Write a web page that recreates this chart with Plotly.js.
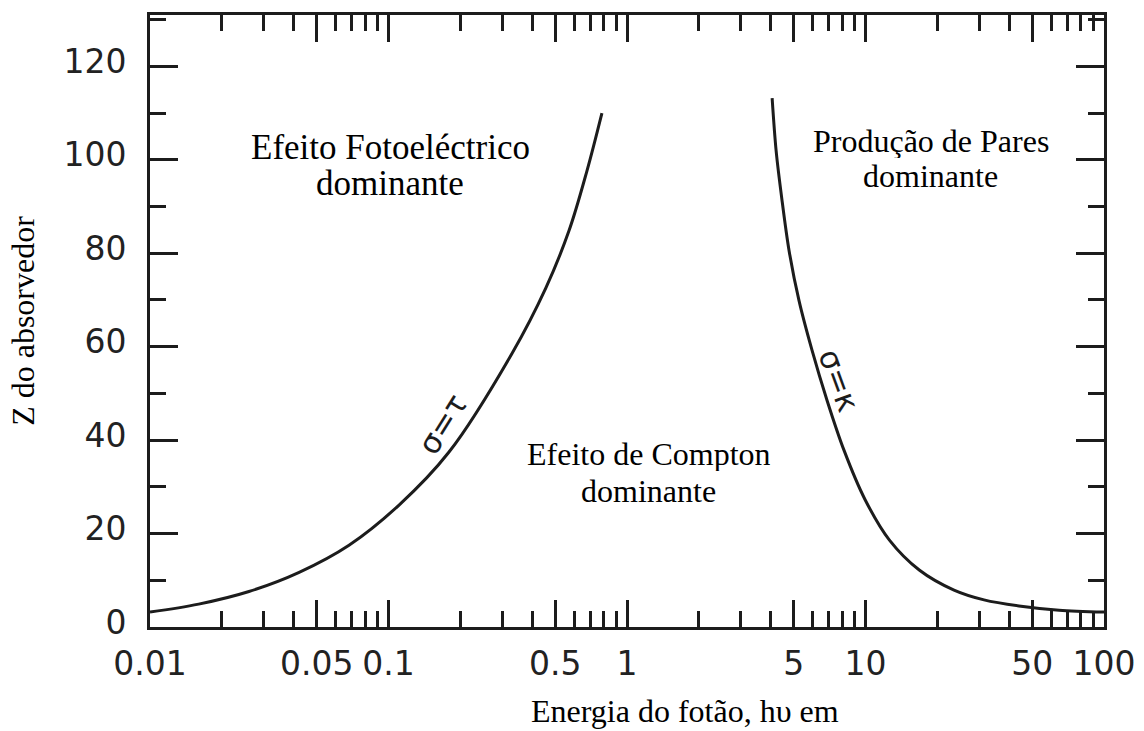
<!DOCTYPE html>
<html>
<head>
<meta charset="utf-8">
<script src="https://cdn.plot.ly/plotly-3.0.1.min.js"></script>
<style>html,body{margin:0;padding:0;background:#fff;}#chart{width:1144px;height:731px;}</style>
</head>
<body>
<div id="chart"></div>
<script>
// Photoelectric / Compton boundary (sigma = tau)
const photoEnergy = [0.01, 0.016, 0.026, 0.0422, 0.0683, 0.1107, 0.179, 0.329, 0.457, 0.571, 0.679, 0.785];
const photoZ      = [3.2,  4.9,   7.6,   11.7,   17.5,   26.1,   37.4,  58.5,  72.6,  84.8,  97.6,  110];
// Compton / pair production boundary (sigma = kappa)
const pairEnergy = [4.06, 4.22, 4.47, 4.78, 5.26, 5.97, 6.9, 8.13, 9.95, 12.6, 16.8, 23.5, 31.4, 44.0, 64.8, 100];
const pairZ      = [113.2, 101.9, 91.2, 80.6, 69.9, 59.2, 48.5, 37.8, 27.3, 18.6, 12.2, 7.9, 5.8, 4.5, 3.6, 3.2];

const xMajorTicks = [0.01, 0.05, 0.1, 0.5, 1, 5, 10, 50, 100];
const xMajorLabels = ['0.01', '0.05', '0.1', '0.5', '1', '5', '10', '50', '100'];
const xMinorTicks = [0.02,0.03,0.04,0.06,0.07,0.08,0.09,0.2,0.3,0.4,0.6,0.7,0.8,0.9,2,3,4,6,7,8,9,20,30,40,60,70,80,90];
const yMajorTicks = [0, 20, 40, 60, 80, 100, 120];
const yMajorLabels = ['0', '20', '40', '60', '80', '100', '120'];

const regionLabels = [
  {text: 'Efeito Fotoeléctrico', x: 0.1015, y: 102.6, size: 35},
  {text: 'dominante', x: 0.1015, y: 94.9, size: 35},
  {text: 'Produção de Pares', x: 18.8, y: 104.2, size: 32},
  {text: 'dominante', x: 18.8, y: 96.7, size: 32},
  {text: 'Efeito de Compton', x: 1.236, y: 37.2, size: 32},
  {text: 'dominante', x: 1.236, y: 29.3, size: 32}
];
const curveLabels = [
  {text: 'σ=τ', x: 0.168, y: 43.5, angle: -58},
  {text: 'σ=κ', x: 7.74, y: 52.8, angle: 70}
];

const ink = '#1c1c1c';

const traces = [
  {x: photoEnergy, y: photoZ, mode: 'lines', line: {color: ink, width: 3, shape: 'spline', smoothing: 1}, hoverinfo: 'skip', name: 'σ=τ'},
  {x: pairEnergy, y: pairZ, mode: 'lines', line: {color: ink, width: 3, shape: 'spline', smoothing: 0.9}, hoverinfo: 'skip', name: 'σ=κ'}
];

const serif = 'Liberation Serif, Times New Roman, serif';
const annotations = [];
regionLabels.forEach(l => annotations.push({
  x: Math.log10(l.x), y: l.y, xref: 'x', yref: 'y', text: l.text, showarrow: false,
  height: 35, valign: 'middle',
  font: {family: serif, size: l.size, color: '#000'}
}));
curveLabels.forEach(l => annotations.push({
  x: Math.log10(l.x), y: l.y, xref: 'x', yref: 'y', text: l.text, showarrow: false, textangle: l.angle,
  font: {family: 'DejaVu Sans, sans-serif', size: 31, color: ink}
}));
// x-axis title (offset to the right as in the reference)
annotations.push({
  x: (685 - 150) / (1144 - 150 - 40), y: -(711 - 627) / (627 - 15),
  xref: 'paper', yref: 'paper', xanchor: 'center', yanchor: 'middle',
  text: 'Energia do fotão, hυ em', showarrow: false,
  font: {family: serif, size: 32, color: '#000'}
});

const layout = {
  width: 1144, height: 731,
  margin: {l: 150, r: 40, t: 15, b: 104},
  paper_bgcolor: '#fff', plot_bgcolor: '#fff',
  showlegend: false,
  xaxis: {
    type: 'log', range: [-2, 2],
    tickmode: 'array', tickvals: xMajorTicks, ticktext: xMajorLabels,
    ticks: 'inside', ticklen: 27, tickwidth: 3, tickcolor: ink,
    minor: {tickmode: 'array', tickvals: xMinorTicks, ticks: 'inside', ticklen: 16, tickwidth: 3, tickcolor: ink, showgrid: false},
    showline: true, linewidth: 3, linecolor: ink, mirror: 'allticks',
    showgrid: false, zeroline: false,
    tickfont: {family: 'DejaVu Sans, sans-serif', size: 33, color: '#222'},
    ticklabelstandoff: 5
  },
  yaxis: {
    range: [0, 131],
    tickmode: 'array', tickvals: yMajorTicks, ticktext: yMajorLabels,
    ticks: 'inside', ticklen: 28, tickwidth: 3, tickcolor: ink,
    minor: {tickmode: 'linear', tick0: 10, dtick: 20, ticks: 'inside', ticklen: 16, tickwidth: 3, tickcolor: ink, showgrid: false},
    showline: true, linewidth: 3, linecolor: ink, mirror: 'allticks',
    showgrid: false, zeroline: false,
    tickfont: {family: 'DejaVu Sans, sans-serif', size: 33, color: '#222'},
    ticklabelstandoff: 14, ticklabelshift: -5,
    title: {text: 'Z do absorvedor', standoff: 20, font: {family: serif, size: 32, color: '#000'}}
  },
  annotations: annotations
};

Plotly.newPlot('chart', traces, layout, {displayModeBar: false, staticPlot: true});
</script>
</body>
</html>
